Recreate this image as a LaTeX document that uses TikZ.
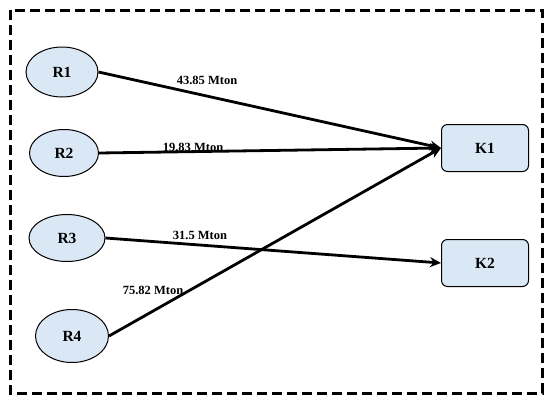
\documentclass[tikz,border=0pt]{standalone}
\usepackage{fontspec}
\setmainfont{Liberation Serif}
\usetikzlibrary{arrows.meta}
\definecolor{nodefill}{HTML}{DAE8F5}
\tikzset{
  src/.style={ellipse, draw=black, line width=1pt, fill=nodefill, minimum width=#1, font=\fontsize{15.5}{18}\selectfont\bfseries},
  dst/.style={rectangle, rounded corners=6pt, draw=black, line width=1pt, fill=nodefill, minimum width=87pt, minimum height=47pt, font=\fontsize{15.5}{18}\selectfont\bfseries},
  flow/.style={line width=2.8pt, -{Stealth[length=11pt,width=10pt]}},
  lab/.style={font=\fontsize{12.5}{14}\selectfont\bfseries, inner sep=0pt},
  frame/.style={line width=3pt, dash pattern=on 10pt off 5pt}
}
\usetikzlibrary{shapes.geometric}
\begin{document}
\begin{tikzpicture}[x=1pt,y=-1pt]
\useasboundingbox (0,0) rectangle (550,402);
\draw[frame] (10,10) rectangle (542,393);
\node[src=72pt, minimum height=50pt] (r1) at (62,72) {R1};
\node[src=69pt, minimum height=47pt] (r2) at (64,153) {R2};
\node[src=76pt, minimum height=47pt] (r3) at (67,238) {R3};
\node[src=73pt, minimum height=53pt] (r4) at (72,336) {R4};
\node[dst] (k1) at (485,148) {K1};
\node[dst] (k2) at (485,263) {K2};
\draw[flow] (r1.east) -- (k1.west);
\draw[flow] (r2.east) -- (k1.west);
\draw[flow] (r3.east) -- (k2.west);
\draw[flow] (r4.east) -- (k1.west);
\node[lab] (l1) at (207,80) {43.85 Mton};
\node[lab] (l2) at (193,147) {19.83 Mton};
\node[lab] (l3) at (200,235) {31.5 Mton};
\node[lab] (l4) at (153,290) {75.82 Mton};
\end{tikzpicture}
\end{document}
